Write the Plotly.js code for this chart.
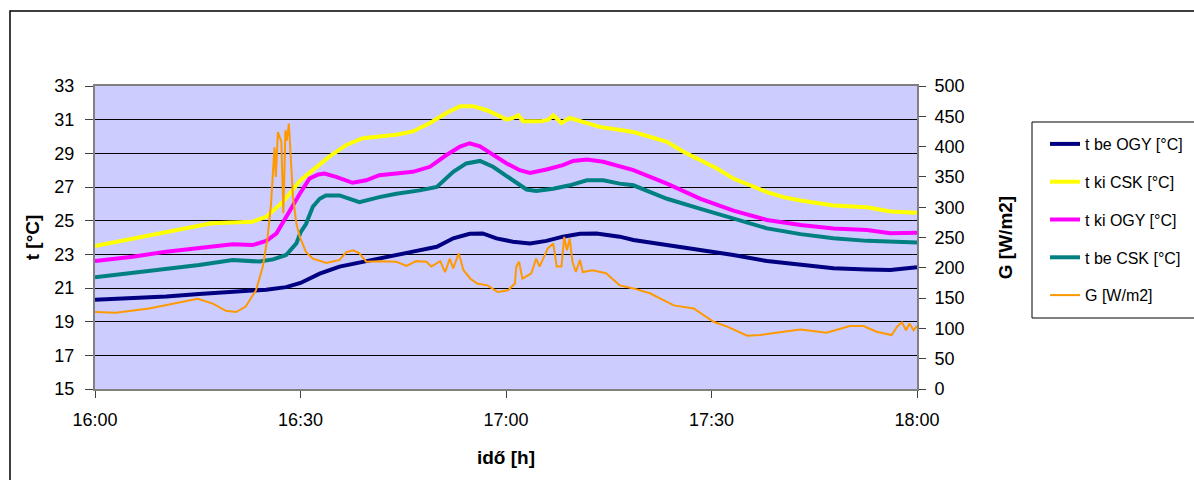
<!DOCTYPE html>
<html>
<head>
<meta charset="utf-8">
<script src="https://cdn.plot.ly/plotly-3.0.1.min.js"></script>
<style>html,body{margin:0;padding:0;background:#fff;}</style>
</head>
<body>
<div id="chart" style="width:1194px;height:480px;"></div>
<script>
// ---- data (minutes after 16:00) ----
const xTickVals = [0, 30, 60, 90, 120];
const xTickText = ["16:00", "16:30", "17:00", "17:30", "18:00"];

const seriesNames = ["t be OGY [°C]", "t ki CSK [°C]", "t ki OGY [°C]", "t be CSK [°C]", "G [W/m2]"];

const tBeOgyTime = [0,5.5,10.4,15.2,20.1,25,27.9,30,32.8,35.7,39.1,42.4,46.4,49.9,52.3,54.7,56.6,58.6,61,63.5,65.9,68.3,70.8,73.2,76.6,78.6,83.5,88.4,93.2,98.1,103,107.8,112.7,116.1,120];
const tBeOgy     = [20.3,20.4,20.5,20.65,20.8,20.9,21.05,21.3,21.85,22.27,22.55,22.85,23.16,23.45,23.95,24.22,24.24,23.95,23.75,23.65,23.8,24.05,24.22,24.24,24.05,23.85,23.55,23.26,22.96,22.6,22.37,22.17,22.1,22.07,22.23];

const tKiCskTime = [0,5,10.4,17,23,25,27.4,30,31.8,34.2,36.7,39.1,41.5,44,46.4,48.9,51.3,53.3,55.2,57.2,60.1,61,61.8,62.5,65,66.2,66.9,68.1,69.3,70.8,73.7,78.6,83.5,85.9,88.4,90.8,93.2,95.7,98.1,100.5,103,107.8,112.7,116.1,120];
const tKiCsk     = [23.5,23.9,24.34,24.84,24.94,25.23,26.1,27.4,28.0,28.8,29.5,29.9,30.0,30.1,30.3,30.8,31.4,31.8,31.8,31.56,31.0,31.1,31.26,30.9,30.9,31.0,31.26,30.8,31.1,30.9,30.57,30.27,29.68,29.09,28.6,28.1,27.5,27.1,26.7,26.4,26.2,25.9,25.8,25.55,25.47];

const tKiOgyTime = [0,5.5,10.4,15.2,20.1,23,25,26.5,28.4,29.9,31.3,32.6,33.5,35.2,37.6,39.6,41.5,44,46.4,48.9,51.3,53.3,54.7,56.2,58.1,60.1,62,63.5,65.9,68.3,69.8,71.8,74.2,76.6,78.6,83.5,88.4,93.2,98.1,103,107.8,112.7,116.1,120];
const tKiOgy     = [22.6,22.86,23.16,23.4,23.6,23.55,23.8,24.25,25.6,26.6,27.5,27.74,27.8,27.6,27.25,27.4,27.7,27.8,27.9,28.2,28.9,29.4,29.6,29.42,28.9,28.4,28.0,27.84,28.04,28.3,28.55,28.63,28.5,28.2,28.0,27.2,26.3,25.6,25.04,24.74,24.54,24.44,24.25,24.28];

const tBeCskTime = [0,5.5,10.4,15.2,20.1,24,26,27.9,29.4,30,30.8,31.8,32.8,33.7,35.7,38.6,41.5,44,47.4,49.9,52.3,54.2,56.2,58.1,61,63,64.4,66.9,69.3,71.8,74.2,76.6,78.6,83.5,88.4,93.2,98.1,103,107.8,112.7,120];
const tBeCsk     = [21.64,21.9,22.17,22.37,22.66,22.57,22.7,22.96,23.65,24.3,24.8,25.83,26.3,26.5,26.5,26.1,26.4,26.6,26.8,27.0,27.9,28.4,28.55,28.2,27.4,26.85,26.77,26.9,27.1,27.4,27.4,27.2,27.1,26.3,25.7,25.1,24.54,24.2,23.95,23.8,23.7];

const gTime = [0,3,7.9,11.3,15,17.2,19.1,20.6,22,23.5,24.5,25.2,25.7,26.2,26.4,26.7,27.2,27.5,27.8,28,28.3,28.5,28.9,29.4,29.9,30.8,31.8,33.8,35.7,36.7,37.7,38.6,39.6,41.5,44,45.5,46.9,48.4,49.1,50.4,51.1,51.8,52.3,53.1,53.8,54.8,55.8,57.3,58.8,60.3,61.3,61.5,61.9,62.4,63.7,64.4,64.9,66.1,66.9,67.4,68.1,68.5,68.9,69.3,69.7,70.2,70.8,71.2,72.6,74.6,76.6,78.6,81,84.5,87.4,90.3,92.3,95.2,97.1,100.5,103,106.8,110.2,112.2,114.1,116.3,117.1,117.8,118.4,118.9,119.5,120];
const gVal  = [127,126,133,141,149,141,129,127,136,163,202,251,306,399,350,424,408,290,427,410,438,399,317,273,251,226,215,208,213,226,229,224,210,211,210,203,211,210,202,211,193,215,199,224,196,182,174,171,160,163,174,202,210,182,191,215,202,232,240,202,202,251,229,248,210,193,213,193,196,191,171,166,158,138,133,111,103,88,89,94.5,98,93,104,104,94.5,89,103,110,97,108,97,104];

const colors = ["#000080", "#FFFF00", "#FF00FF", "#008080", "#FF9900"];

// ---- chart ----
const FONT = "Liberation Sans, Arial, sans-serif";
const xs = [tBeOgyTime, tKiCskTime, tKiOgyTime, tBeCskTime, gTime];
const ys = [tBeOgy, tKiCsk, tKiOgy, tBeCsk, gVal];
const traces = ys.map((y, i) => ({
  x: xs[i], y: y, type: "scatter", mode: "lines",
  name: seriesNames[i], legendgroup: "g" + i,
  yaxis: i === 4 ? "y2" : "y",
  line: {color: colors[i], width: i === 4 ? 2 : 4}
}));

const PL = 95, PR = 917, PT = 86, PB = 389;
const PW = PR - PL, PH = PB - PT;

const layout = {
  width: 1194, height: 480,
  margin: {l: PL, r: 1194 - PR, t: PT, b: 480 - PB, pad: 0, autoexpand: false},
  paper_bgcolor: "#ffffff",
  plot_bgcolor: "#CCCCFF",
  font: {family: FONT, size: 18, color: "#000"},
  showlegend: true,
  legend: {
    xref: "container", yref: "container",
    x: 1045 / 1194, xanchor: "left", y: 1 - 127 / 480, yanchor: "top",
    bgcolor: "rgba(0,0,0,0)", borderwidth: 0,
    font: {family: FONT, size: 16, color: "#000"},
    tracegroupgap: 14, traceorder: "grouped"
  },
  xaxis: {
    range: [0, 120], tickvals: xTickVals, ticktext: xTickText,
    ticks: "outside", ticklen: 7, tickcolor: "#404040", tickwidth: 1,
    showline: true, linecolor: "#808080", linewidth: 2, mirror: true,
    showgrid: false, zeroline: false, ticklabelstandoff: 6,
    tickfont: {family: FONT, size: 18, color: "#000"},
    title: {text: "<b>idő [h]</b>", font: {family: FONT, size: 19, color: "#000"}, standoff: 22}
  },
  yaxis: {
    range: [15, 33], tick0: 15, dtick: 2,
    ticks: "outside", ticklen: 8, tickcolor: "#404040", tickwidth: 1,
    showline: true, linecolor: "#808080", linewidth: 2,
    showgrid: true, gridcolor: "#000000", gridwidth: 1, zeroline: false,
    ticklabelstandoff: 7,
    tickfont: {family: FONT, size: 18, color: "#000"},
    title: {text: "<b>t [°C]</b>", font: {family: FONT, size: 19, color: "#000"}, standoff: 10}
  },
  yaxis2: {
    overlaying: "y", side: "right", range: [0, 500], tick0: 0, dtick: 50,
    ticks: "outside", ticklen: 7, tickcolor: "#404040", tickwidth: 1,
    showline: true, linecolor: "#808080", linewidth: 2,
    showgrid: false, zeroline: false, ticklabelstandoff: 5,
    tickfont: {family: FONT, size: 18, color: "#000"},
    title: {text: "<b>G [W/m2]</b>", font: {family: FONT, size: 19, color: "#000"}, standoff: 35}
  },
  yaxis3: {
    overlaying: "y", side: "right", range: [0, 500], tick0: 0, dtick: 50,
    ticks: "inside", ticklen: 7, tickcolor: "#404040", tickwidth: 1,
    showticklabels: false, showline: false, showgrid: false, zeroline: false
  },
  shapes: [
    {type: "rect", xref: "paper", yref: "paper",
     x0: (10 - PL) / PW, x1: (1210 - PL) / PW, y0: (PB - 500) / PH, y1: (PB - 11) / PH,
     line: {color: "#000", width: 1.5}, fillcolor: "rgba(0,0,0,0)"},
    {type: "rect", xref: "paper", yref: "paper",
     x0: (1032 - PL) / PW, x1: (1210 - PL) / PW, y0: (PB - 318) / PH, y1: (PB - 122) / PH,
     line: {color: "#000", width: 1}, fillcolor: "rgba(0,0,0,0)"}
  ]
};

Plotly.newPlot("chart", traces, layout, {displayModeBar: false, staticPlot: true});
</script>
</body>
</html>
